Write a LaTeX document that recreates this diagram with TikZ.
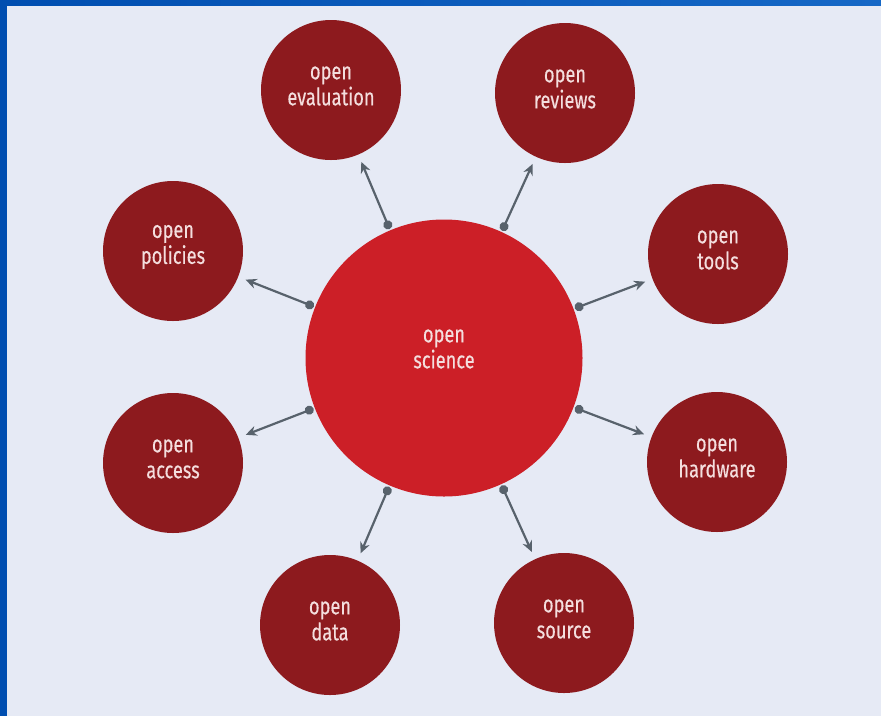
\documentclass[tikz,border=0pt]{standalone}
\usepackage{fontspec}
\setmainfont{Fira Sans}[FakeStretch=0.76,FakeBold=0.3]
\usetikzlibrary{arrows.meta}
\definecolor{bg}{RGB}{230,234,245}
\definecolor{bluel}{RGB}{0,78,176}
\definecolor{bluer}{RGB}{22,104,198}
\definecolor{mainred}{RGB}{204,31,39}
\definecolor{darkred}{RGB}{141,26,30}
\definecolor{txt}{RGB}{244,222,222}
\definecolor{conn}{RGB}{88,98,108}
\tikzset{
  x=1pt,y=-1pt,
  hub/.style={circle,fill=mainred,minimum size=277pt,inner sep=0pt,outer sep=1.5pt},
  topic/.style={circle,fill=darkred,minimum size=140pt,inner sep=0pt,outer sep=8pt},
  lbl/.style={text=txt,align=center,font=\fontsize{24}{26}\selectfont},
  link/.style={draw=conn,line width=2.2pt,{Circle[length=9pt]}-{Stealth[length=11pt,width=10pt]}}
}
\begin{document}
\begin{tikzpicture}
\useasboundingbox (0,0) rectangle (881,716);
\fill[bg] (0,0) rectangle (881,716);
\fill[bluel] (0,0) rectangle (7,716);
\shade[left color=bluel,right color=bluer] (0,0) rectangle (881,5);
\node[hub] (c) at (444,358) {};
\node[lbl] (ct) at (444,349) {open\\science};
\node[topic] (eval) at (331,90) {};
\node[lbl] (evalt) at (331,86) {open\\evaluation};
\node[topic] (rev) at (565,93) {};
\node[lbl] (revt) at (565,89) {open\\reviews};
\node[topic] (pol) at (173,251) {};
\node[lbl] (polt) at (173,247) {open\\policies};
\node[topic] (tools) at (718,254) {};
\node[lbl] (toolst) at (718,250) {open\\tools};
\node[topic] (acc) at (173,463) {};
\node[lbl] (acct) at (173,459) {open\\access};
\node[topic] (hw) at (717,462) {};
\node[lbl] (hwt) at (717,458) {open\\hardware};
\node[topic] (data) at (330,625) {};
\node[lbl] (datat) at (330,621) {open\\data};
\node[topic] (src) at (564,623) {};
\node[lbl] (srct) at (564,619) {open\\source};
\foreach \t in {eval,rev,pol,tools,acc,hw,data,src}
  \draw[link] (c) -- (\t);
\end{tikzpicture}
\end{document}
